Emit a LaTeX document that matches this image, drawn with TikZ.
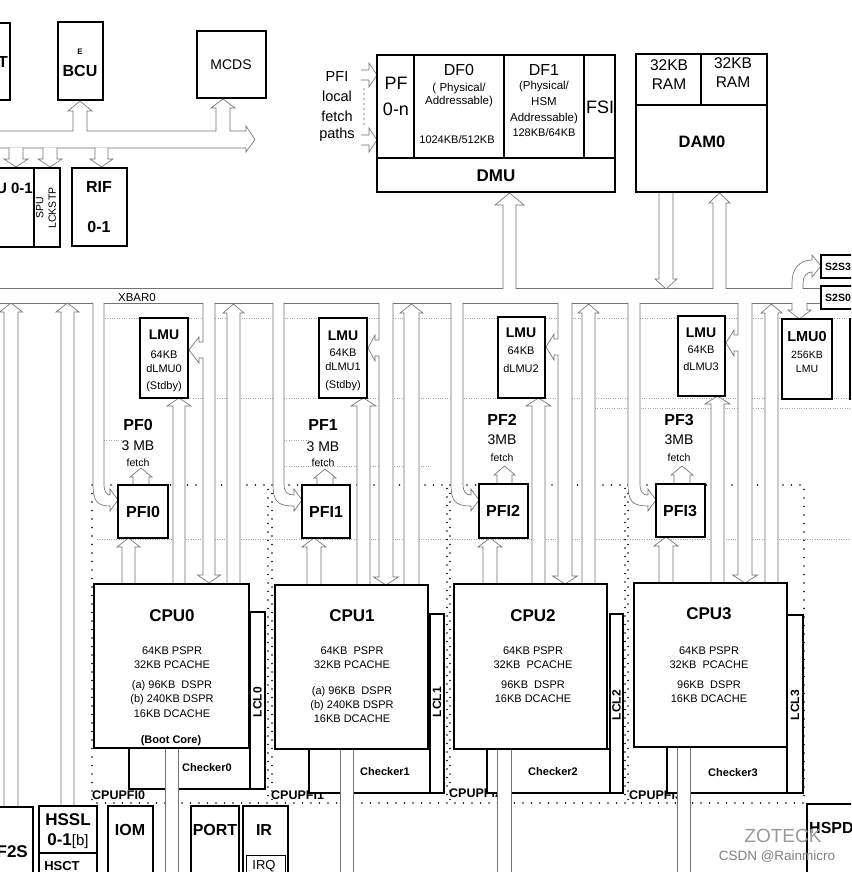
\documentclass[tikz,border=0pt]{standalone}
\usepackage{fontspec}
\setmainfont{Liberation Sans}
\tikzset{
  box/.style={draw=black, line width=1.5pt, fill=white, inner sep=0pt, outer sep=0pt, anchor=north west},
  pipe/.style={draw=black!55, line width=0.65pt, fill=white},
  pipeline/.style={draw=black!55, line width=0.65pt},
  bus/.style={draw=black!55, line width=0.7pt},
  gdot/.style={draw=black!35, line width=0.5pt, dash pattern=on 0.8pt off 1.6pt},
  fdot/.style={draw=black, line width=1.6pt, line cap=round, dash pattern=on 0pt off 8.5pt},
  fs/.style={inner sep=0pt, font=\fontsize{#1}{#1}\selectfont},
  fb/.style={inner sep=0pt, font=\fontsize{#1}{#1}\selectfont\bfseries},
}
\newcommand\mybx[5]{\node[box, minimum width={(#4-(#2))*1pt}, minimum height={(#5-(#3))*1pt}] (#1) at (#2,#3) {};}
\newcommand\mypupx[6]{\filldraw[pipe] (#1,#3) -- (#1,#4+#6) -- (#1-#5,#4+#6) -- ({(#1+#2)/2},#4) -- (#2+#5,#4+#6) -- (#2,#4+#6) -- (#2,#3);}
\newcommand\mypup[4]{\mypupx{#1}{#2}{#3}{#4}{5}{9}}
\newcommand\mypdnx[6]{\filldraw[pipe] (#1,#3) -- (#1,#4-#6) -- (#1-#5,#4-#6) -- ({(#1+#2)/2},#4) -- (#2+#5,#4-#6) -- (#2,#4-#6) -- (#2,#3);}
\newcommand\mypdn[4]{\mypdnx{#1}{#2}{#3}{#4}{5}{8}}
% down pipe with a left branch arrow: x1 x2 ytop ytip ybranch xbranchtip
\newcommand\mypbr[6]{\filldraw[pipe] (#1,#3) -- (#1,#5-8) -- (#1-4,#5-8) -- (#1-4,#5-13) -- (#6,#5) -- (#1-4,#5+13) -- (#1-4,#5+8) -- (#1,#5+8) -- (#1,#4-8) -- (#1-5.5,#4-8) -- ({(#1+#2)/2},#4) -- (#2+5.5,#4-8) -- (#2,#4-8) -- (#2,#3);}
% curved feed into a PFI: x1 x2 ytop xtip ytip
\newcommand\mypcurve[5]{\filldraw[pipe] (#1,#3) -- (#1,#5-16) .. controls (#1,#5+1) and (#1+4,#5+6) .. (#4-8,#5+6) -- (#4-8,#5+11) -- (#4,#5) -- (#4-8,#5-11) -- (#4-8,#5-5) .. controls (#2+3,#5-5) and (#2,#5-8) .. (#2,#5-16) -- (#2,#3);}
\newcommand\myvpipe[4]{\fill[white] (#1,#3) rectangle (#2,#4); \draw[pipeline] (#1,#3) -- (#1,#4) (#2,#3) -- (#2,#4);}
\begin{document}
\begin{tikzpicture}[x=1pt,y=-1pt]
\useasboundingbox (0,0) rectangle (851,872);
\clip (0,0) rectangle (851,872);
\fill[white] (0,0) rectangle (851,872);

% faint dotted guide lines
\draw[gdot] (100,318) -- (851,318);
\draw[gdot] (188,398) -- (851,398);
\draw[gdot] (595,408) -- (851,408);
\draw[gdot] (104,440) -- (123,440);
\draw[gdot] (284,440) -- (310,440);
\draw[gdot] (284,466) -- (430,466);
\draw[gdot] (97,539) -- (851,539);

% CPUPFI dotted frames
\draw[fdot] (92,485) rectangle (268,803);
\draw[fdot] (272,485) rectangle (447,803);
\draw[fdot] (450,485) rectangle (625,803);
\draw[fdot] (628,485) rectangle (804,803);
\node[fb=12.5, anchor=west] (lp0) at (92,795) {CPUPFI0};
\node[fb=12.5, anchor=west] (lp1) at (271,795) {CPUPFI1};
\node[fb=12.5, anchor=west] (lp2) at (449,793) {CPUPFI2};
\node[fb=12.5, anchor=west] (lp3) at (629,795) {CPUPFI3};

% XBAR0 bus
\draw[bus] (0,288) -- (821,288);
\draw[bus] (0,303) -- (821,303);
\node[fs=11.5] (xbar) at (137,298) {XBAR0};

% top-left bus
\filldraw[pipe] (-1,131) -- (73,131) -- (73,111) -- (68,111) -- (80,101) -- (92,111) -- (87,111) -- (87,131) -- (216,131) -- (216,108) -- (211,108) -- (223,99) -- (235,108) -- (230,108) -- (230,131) -- (246,131) -- (246,126) -- (255,139.5) -- (246,152) -- (246,148) -- (-1,148);
\mypdn{9}{23}{147.6}{167}
\mypdn{43}{57}{147.6}{167}
\mypdn{95}{108}{147.6}{167}

\mybx{tbox}{-10}{23}{10}{100}
\node[fb=16, anchor=east] (tT) at (8,62) {T};
\mybx{bcu}{58}{22}{103}{100}
\node[fb=8] (tE) at (80,52) {E};
\node[fb=16] (tBCU) at (80,71) {BCU};
\mybx{mcds}{197}{31}{266}{98}
\node[fs=14] (tMCDS) at (231,65) {MCDS};
\mybx{spu}{-10}{168}{34}{247}
\node[fb=15, anchor=east] (tSPU) at (33,188) {SPU 0-1};
\mybx{lck}{34}{168}{60}{247}
\node[rotate=90, inner sep=0pt, align=center, font=\fontsize{10.5}{12.5}\selectfont] (tLCK) at (46,208) {SPU\\LCKSTP};
\mybx{rif}{72}{168}{127}{246}
\node[fb=16] (tRIF) at (99,187) {RIF};
\node[fb=16] (tRIF2) at (99,227) {0-1};

% PFI local fetch paths
\node[fs=14.5] (pl1) at (337,77) {PFI};
\node[fs=14.5] (pl2) at (337,96) {local};
\node[fs=14.5] (pl3) at (337,116) {fetch};
\node[fs=14.5] (pl4) at (337,135) {paths};
\filldraw[pipe] (361,70) -- (369,70) -- (369,63) -- (377,75) -- (369,87) -- (369,80) -- (361,80);
\filldraw[pipe] (361,135) -- (369,135) -- (369,128) -- (377,140) -- (369,152) -- (369,145) -- (361,145);
\draw[draw=black, line width=1.1pt, line cap=round, dash pattern=on 0pt off 5pt] (364,89) -- (364,126);

% DMU / DAM0 connections
\mypupx{503}{516}{288.8}{193}{8}{12}
\mypdnx{659}{673}{192}{289}{4}{10}
\mypupx{713}{726}{288.8}{193}{4}{10}

% flash
\mybx{pf}{377}{55}{414}{158}
\node[fs=18] (tPF) at (396,83) {PF};
\node[fs=18] (tPF2) at (396,109) {0-n};
\mybx{df0}{414}{55}{504}{158}
\node[fs=16] (tDF0) at (459,70) {DF0};
\node[fs=11.5] (tDF0a) at (459,89) {( Physical/};
\node[fs=11.5] (tDF0b) at (459,102) {Addressable)};
\node[fs=11] (tDF0c) at (457,140) {1024KB/512KB};
\mybx{df1}{504}{55}{584}{158}
\node[fs=16] (tDF1) at (544,70) {DF1};
\node[fs=11.5] (tDF1a) at (544,87) {(Physical/};
\node[fs=11.5] (tDF1b) at (544,102) {HSM};
\node[fs=11.5] (tDF1c) at (544,119) {Addressable)};
\node[fs=11] (tDF1d) at (544,133) {128KB/64KB};
\mybx{fsi}{584}{55}{615}{158}
\node[fs=18] (tFSI) at (600,107) {FSI};
\mybx{dmu}{377}{158}{615}{192}
\node[fb=17] (tDMU) at (496,176) {DMU};
\mybx{ram1}{636}{54}{701}{105}
\node[fs=15.5] (tR1a) at (669,65) {32KB};
\node[fs=15.5] (tR1b) at (669,84) {RAM};
\mybx{ram2}{701}{54}{767}{105}
\node[fs=15.5] (tR2a) at (733,63) {32KB};
\node[fs=15.5] (tR2b) at (733,82) {RAM};
\mybx{dam}{636}{105}{767}{192}
\node[fb=16.5] (tDAM) at (702,142) {DAM0};

% S2S and LMU0
\filldraw[pipe] (792,288.8) -- (792,283) .. controls (792,268) and (800,260) .. (812,260) -- (812,255) -- (821,266) -- (812,277) -- (812,272) .. controls (807,272) and (803,276) .. (803,283) -- (803,288.8);
\mybx{s2s3}{821}{255}{870}{278}
\node[fb=10.5, anchor=west] (tS3) at (825,266.5) {S2S3};
\mybx{s2s0}{821}{286}{870}{309}
\node[fb=10.5, anchor=west] (tS0) at (825,297.5) {S2S0};
\mypdnx{792}{807}{302.6}{319}{4}{9}
\mybx{lmu0}{782}{319}{832}{399}
\node[fb=14.5] (tL0a) at (807,337) {LMU0};
\node[fs=10.5] (tL0b) at (807,355) {256KB};
\node[fs=10.5] (tL0c) at (807,369) {LMU};
\mybx{rbox}{850}{319}{870}{399}

% peripheral up arrows on the left
\mypupx{4}{18}{806}{303}{4.5}{9}
\mypupx{61}{74}{806}{303}{5}{9}

% ---------- column 0
\mypcurve{93}{104}{302.6}{118}{500}
\mypup{122}{135}{584}{538}
\mypupx{133}{149}{485}{468}{3}{9}
\mypupx{173}{185}{584}{398}{6}{8}
\mypbr{203}{215}{302.6}{583}{350}{189}
\mypupx{227}{240}{584}{304}{4}{9}
% ---------- column 1
\mypcurve{273}{284}{302.6}{302}{500}
\mypup{307}{321}{585}{538}
\mypupx{317}{333}{485}{469}{3}{9}
\mypupx{357}{370}{585}{398}{6}{8}
\mypbr{379}{393}{302.6}{585}{348}{368}
\mypupx{404}{419}{585}{304}{4}{9}
% ---------- column 2
\mypcurve{451}{463}{302.6}{479}{500}
\mypup{483}{497}{584}{538}
\mypupx{497}{512}{484}{466}{3}{9}
\mypupx{532}{545}{584}{398}{6}{8}
\mypbr{558}{572}{302.6}{584}{347}{546}
\mypupx{582}{595}{584}{304}{4}{9}
% ---------- column 3
\mypcurve{628}{640}{302.6}{656}{500}
\mypup{659}{673}{583}{537}
\mypupx{674}{690}{484}{466}{3}{9}
\mypupx{711}{724}{583}{396}{6}{8}
\mypbr{738}{752}{302.6}{583}{343}{726}
\mypupx{765}{778}{583}{304}{4}{9}

% local LMUs
\mybx{dlmu0}{140}{318}{188}{398}
\node[fb=14] (d0a) at (164,335) {LMU};
\node[fs=11] (d0b) at (164,355) {64KB};
\node[fs=11] (d0c) at (164,369) {dLMU0};
\node[fs=11] (d0d) at (164,387) {(Stdby)};
\mybx{dlmu1}{319}{318}{367}{398}
\node[fb=14] (d1a) at (343,336) {LMU};
\node[fs=11] (d1b) at (343,353) {64KB};
\node[fs=11] (d1c) at (343,367) {dLMU1};
\node[fs=11] (d1d) at (343,386) {(Stdby)};
\mybx{dlmu2}{498}{317}{545}{398}
\node[fb=14] (d2a) at (521,333) {LMU};
\node[fs=11] (d2b) at (521,351) {64KB};
\node[fs=11] (d2c) at (521,369) {dLMU2};
\mybx{dlmu3}{678}{316}{725}{396}
\node[fb=14] (d3a) at (701,333) {LMU};
\node[fs=11] (d3b) at (701,350) {64KB};
\node[fs=11] (d3c) at (701,367) {dLMU3};

% PF fetch labels
\node[fb=16] (pf0a) at (138,425) {PF0};
\node[fs=14] (pf0b) at (138,446) {3 MB};
\node[fs=10.5] (pf0c) at (138,463) {fetch};
\node[fb=16] (pf1a) at (323,425) {PF1};
\node[fs=14] (pf1b) at (323,447) {3 MB};
\node[fs=10.5] (pf1c) at (323,463) {fetch};
\node[fb=16] (pf2a) at (502,420) {PF2};
\node[fs=14] (pf2b) at (502,440) {3MB};
\node[fs=10.5] (pf2c) at (502,458) {fetch};
\node[fb=16] (pf3a) at (679,420) {PF3};
\node[fs=14] (pf3b) at (679,440) {3MB};
\node[fs=10.5] (pf3c) at (679,458) {fetch};

% PFI boxes
\mybx{pfi0}{118}{485}{168}{538}
\node[fb=16] (tpfi0) at (143,512) {PFI0};
\mybx{pfi1}{302}{485}{350}{538}
\node[fb=16] (tpfi1) at (326,512) {PFI1};
\mybx{pfi2}{479}{484}{528}{538}
\node[fb=16] (tpfi2) at (503,511) {PFI2};
\mybx{pfi3}{656}{484}{705}{537}
\node[fb=16] (tpfi3) at (680,511) {PFI3};

% checkers, lower pipes, CPUs, LCLs
\mybx{chk0}{129}{748}{250}{789}
\mybx{chk1}{309}{749}{430}{793}
\mybx{chk2}{487}{749}{610}{793}
\mybx{chk3}{667}{747}{787}{793}
\myvpipe{165}{178}{748}{873}
\myvpipe{340}{353}{749}{873}
\myvpipe{497}{511}{749}{873}
\myvpipe{677}{690}{747}{873}
\node[fb=11] (tchk0) at (207,768) {Checker0};
\node[fb=11] (tchk1) at (385,772) {Checker1};
\node[fb=11] (tchk2) at (553,772) {Checker2};
\node[fb=11] (tchk3) at (733,773) {Checker3};

\mybx{cpu0}{94}{584}{249}{748}
\mybx{lcl0}{250}{612}{265}{789}
\mybx{cpu1}{275}{585}{428}{749}
\mybx{lcl1}{430}{614}{444}{793}
\mybx{cpu2}{454}{584}{607}{749}
\mybx{lcl2}{610}{614}{623}{793}
\mybx{cpu3}{634}{583}{787}{747}
\mybx{lcl3}{787}{615}{803}{793}
\node[fb=12, rotate=90] (tlcl0) at (257.5,702) {LCL0};
\node[fb=12, rotate=90] (tlcl1) at (437,702) {LCL1};
\node[fb=12, rotate=90] (tlcl2) at (616.5,705) {LCL2};
\node[fb=12, rotate=90] (tlcl3) at (795,705) {LCL3};

\node[fb=17] (c0a) at (172,616) {CPU0};
\node[fs=11] (c0b) at (172,651) {64KB PSPR};
\node[fs=11] (c0c) at (172,665) {32KB PCACHE};
\node[fs=11] (c0d) at (172,686) {(a) 96KB\ \ DSPR};
\node[fs=11] (c0e) at (172,700) {(b) 240KB DSPR};
\node[fs=11] (c0f) at (172,714) {16KB DCACHE};
\node[fb=11] (c0g) at (171,741) {(Boot Core)};

\node[fb=17] (c1a) at (352,616) {CPU1};
\node[fs=11] (c1b) at (352,651) {64KB\ \ PSPR};
\node[fs=11] (c1c) at (352,665) {32KB PCACHE};
\node[fs=11] (c1d) at (352,692) {(a) 96KB\ \ DSPR};
\node[fs=11] (c1e) at (352,706) {(b) 240KB DSPR};
\node[fs=11] (c1f) at (352,719) {16KB DCACHE};

\node[fb=17] (c2a) at (533,616) {CPU2};
\node[fs=11] (c2b) at (533,651) {64KB PSPR};
\node[fs=11] (c2c) at (533,665) {32KB\ \ PCACHE};
\node[fs=11] (c2d) at (533,685) {96KB\ \ DSPR};
\node[fs=11] (c2e) at (533,699) {16KB DCACHE};

\node[fb=17] (c3a) at (709,614) {CPU3};
\node[fs=11] (c3b) at (709,651) {64KB PSPR};
\node[fs=11] (c3c) at (709,665) {32KB\ \ PCACHE};
\node[fs=11] (c3d) at (709,685) {96KB\ \ DSPR};
\node[fs=11] (c3e) at (709,699) {16KB DCACHE};

% bottom peripherals
\mybx{f2s}{-10}{807}{33}{880}
\node[fb=17, anchor=east] (tf2s) at (28,852) {F2S};
\mybx{hssl}{39}{806}{97}{853}
\node[fb=17] (thssl) at (68,820) {HSSL};
\node[fb=17] (thssl2) at (68,841) {0-1{\mdseries\fontsize{15}{15}\selectfont[b]}};
\mybx{hsct}{39}{853}{97}{880}
\node[fb=13] (thsct) at (62,866) {HSCT};
\mybx{iom}{108}{806}{153}{880}
\node[fb=16] (tiom) at (130,830) {IOM};
\mybx{port}{191}{806}{239}{880}
\node[fb=16] (tport) at (215,830) {PORT};
\mybx{ir}{243}{806}{288}{880}
\node[fb=16] (tir) at (264,830) {IR};
\node[box, line width=1pt, minimum width=39pt, minimum height=25pt] (irq) at (246,855) {};
\node[fs=13] (tirq) at (264,866) {IRQ};
\mybx{hspd}{807}{804}{870}{880}
\node[fb=16, anchor=west] (thspd) at (809,828) {HSPD};

% watermark
\node[fs=19, text=black!40] (wm1) at (783,836) {ZOTECK};
\node[fs=13.5, text=black!50] (wm2) at (777,857) {CSDN @Rainmicro};
\end{tikzpicture}
\end{document}
